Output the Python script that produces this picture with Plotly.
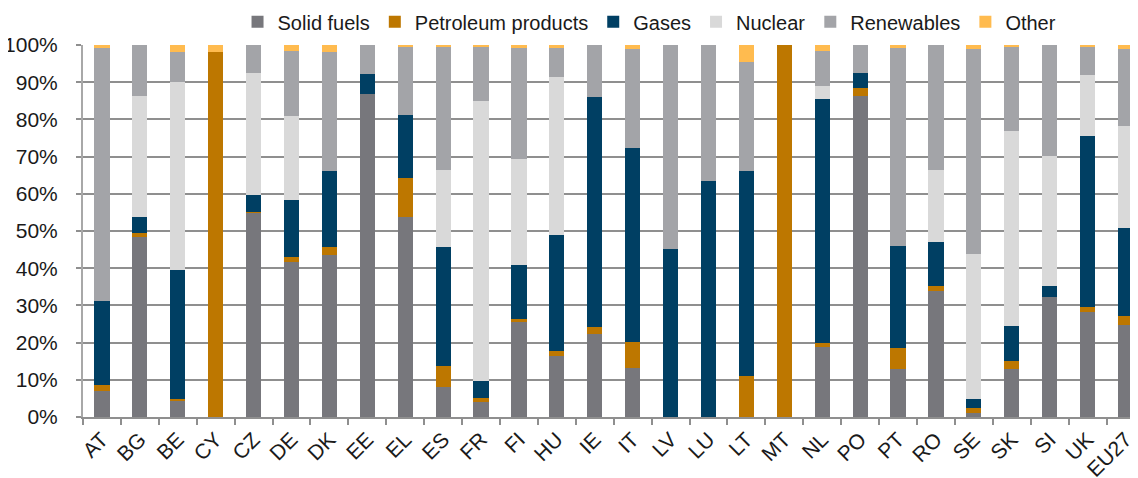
import plotly.graph_objects as go

countries = ["AT", "BG", "BE", "CY", "CZ", "DE", "DK", "EE", "EL", "ES", "FR", "FI", "HU", "IE",
             "IT", "LV", "LU", "LT", "MT", "NL", "PO", "PT", "RO", "SE", "SK", "SI", "UK", "EU27"]

solid_fuels = [6.9, 48.3, 4.2, 0, 55.0, 41.8, 43.5, 86.8, 53.7, 8.2, 4.0, 25.8, 16.5, 22.2,
               13.1, 0, 0, 0, 0, 18.9, 86.4, 13.0, 33.9, 1.2, 12.9, 32.3, 28.1, 24.6]
petroleum = [1.8, 1.1, 0.6, 98.0, 0.2, 1.3, 2.3, 0, 10.5, 5.6, 1.1, 0.5, 1.3, 2.1,
             7.1, 0, 0, 11.1, 100.0, 1.1, 2.0, 5.6, 1.3, 1.1, 2.2, 0, 1.4, 2.6]
gases = [22.6, 4.3, 34.8, 0, 4.6, 15.3, 20.2, 5.3, 17.0, 31.9, 4.6, 14.5, 31.0, 61.8,
         52.2, 45.1, 63.5, 55.1, 0, 65.5, 4.0, 27.4, 11.8, 2.5, 9.4, 2.9, 46.1, 23.7]
nuclear = [0, 32.5, 50.4, 0, 32.6, 22.6, 0, 0, 0, 20.7, 75.3, 28.5, 42.5, 0,
           0, 0, 0, 0, 0, 3.5, 0, 0, 19.5, 38.9, 52.5, 34.9, 16.4, 27.4]
renewables = [67.8, 13.8, 8.2, 0, 7.6, 17.5, 32.0, 7.9, 18.5, 33.2, 14.6, 30.0, 8.0, 13.9,
              26.5, 54.9, 36.5, 29.3, 0, 9.5, 7.6, 53.3, 33.5, 55.3, 22.5, 29.9, 7.5, 20.7]
other = [0.9, 0, 1.8, 2.0, 0, 1.5, 2.0, 0, 0.3, 0.4, 0.4, 0.7, 0.7, 0,
         1.1, 0, 0, 4.5, 0, 1.5, 0, 0.7, 0, 1.0, 0.5, 0, 0.5, 1.0]

series = [
    ("Solid fuels", solid_fuels, "#77777c"),
    ("Petroleum products", petroleum, "#bd7700"),
    ("Gases", gases, "#003f63"),
    ("Nuclear", nuclear, "#d9d9d9"),
    ("Renewables", renewables, "#a3a4a8"),
    ("Other", other, "#ffbb4f"),
]

fig = go.Figure()
for name, vals, color in series:
    fig.add_trace(
        go.Bar(
            x=countries,
            y=[v / 100 for v in vals],
            name=name,
            marker=dict(color=color, line=dict(width=0)),
        )
    )

# page body has an 8px margin, so the figure is sized to fill the rest of the window
fig.update_layout(
    barmode="stack",
    bargap=0.6,
    width=1130,
    height=470,
    margin=dict(l=75, r=0, t=37, b=61, autoexpand=False),
    paper_bgcolor="white",
    plot_bgcolor="white",
    font=dict(family="Liberation Sans, Arial, sans-serif", size=21, color="#1a1a1a"),
    legend=dict(
        orientation="h",
        x=0.537,
        xanchor="center",
        y=1.115,
        yanchor="top",
        font=dict(size=20),
        traceorder="normal",
        itemwidth=30,
    ),
    xaxis=dict(
        range=[-0.5, 27.33],
        tickangle=-45,
        tickson="boundaries",
        ticks="outside",
        ticklen=6,
        tickwidth=2,
        tickcolor="#8f8f8f",
        showline=True,
        linecolor="#8f8f8f",
        linewidth=2,
        showgrid=False,
        automargin=False,
        tickfont=dict(size=21),
    ),
    yaxis=dict(
        range=[0, 1],
        tickformat=".0%",
        dtick=0.1,
        showgrid=True,
        gridcolor="#8f8f8f",
        gridwidth=2,
        ticks="outside",
        ticklen=5,
        tickwidth=2,
        tickcolor="#8f8f8f",
        showline=True,
        linecolor="#a8a8a8",
        linewidth=2,
        zeroline=False,
        automargin=False,
        ticklabelstandoff=14,
        tickfont=dict(size=21),
    ),
)

fig.write_html("out.html")
